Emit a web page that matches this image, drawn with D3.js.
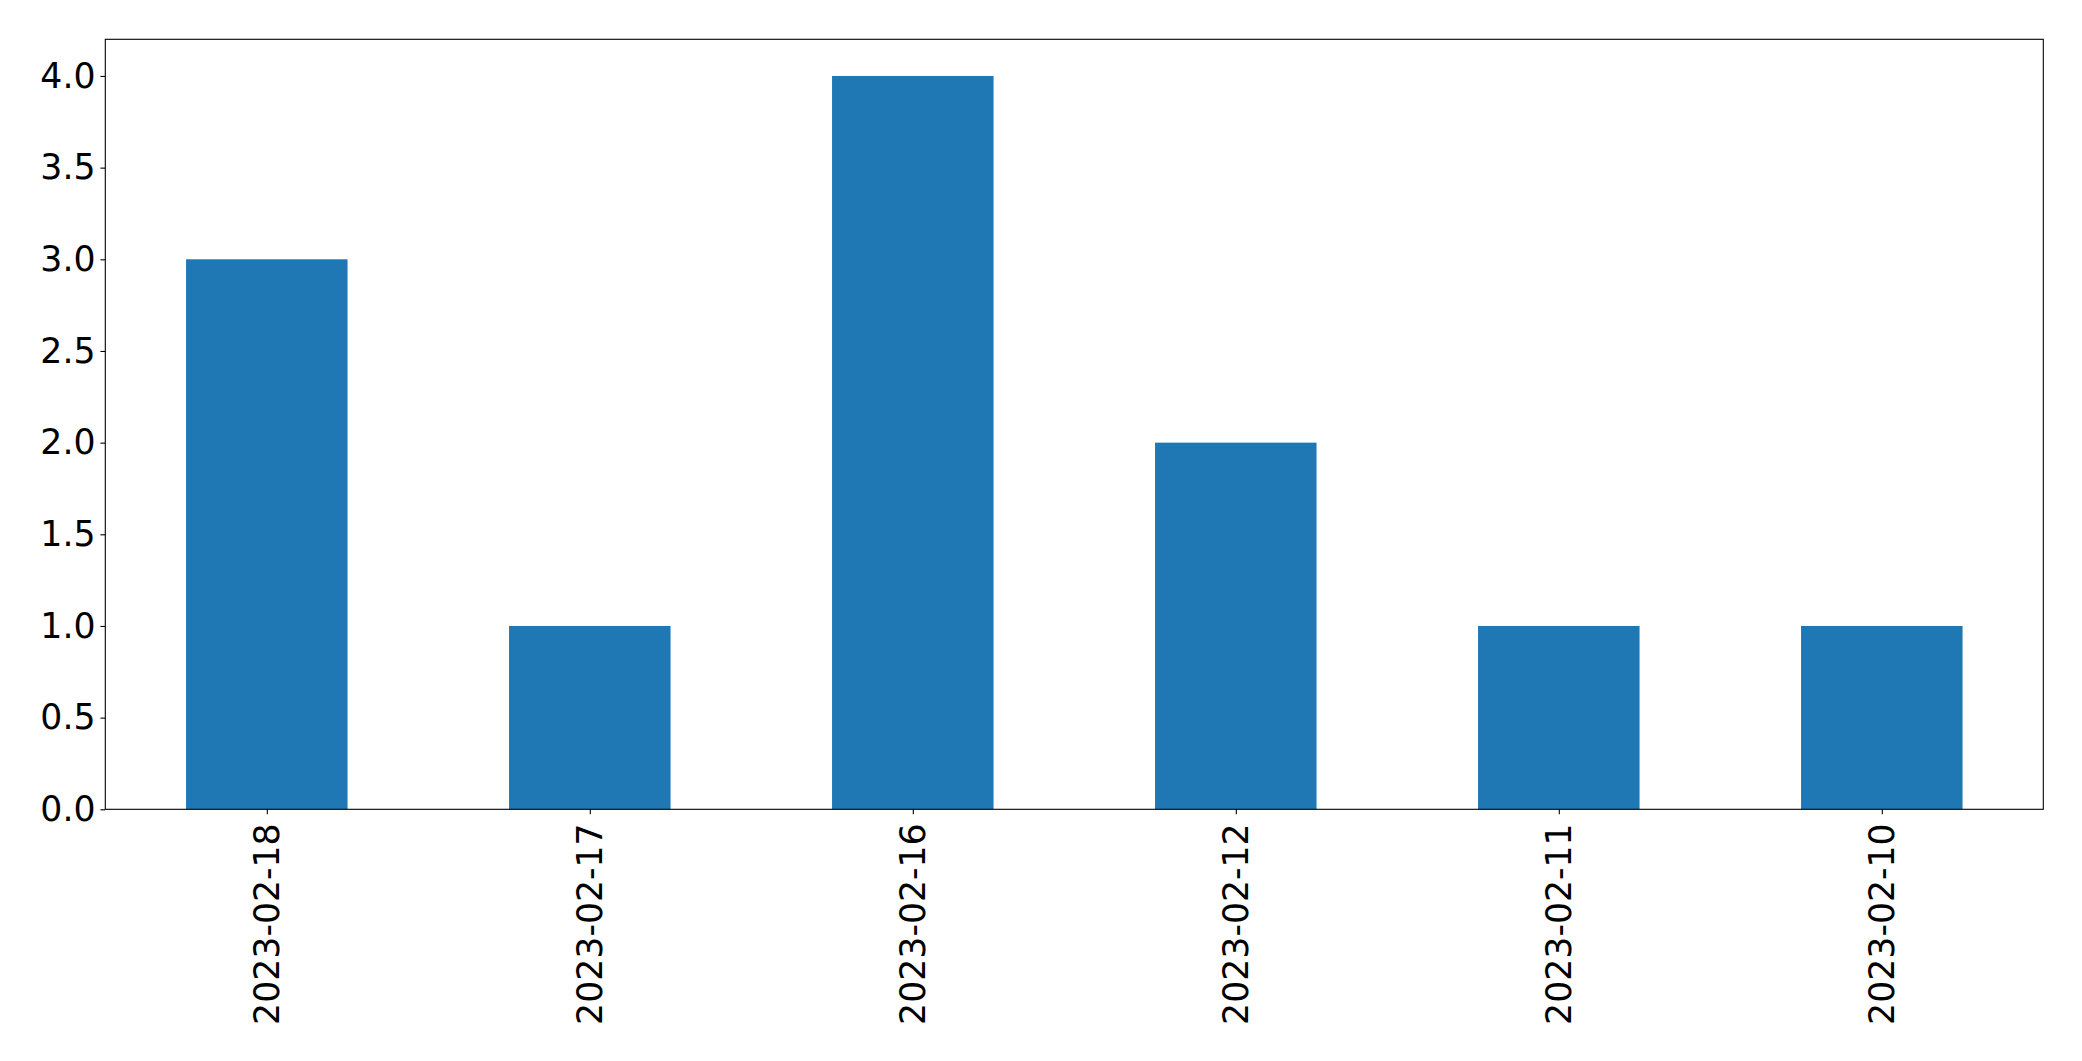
<!DOCTYPE html>
<html><head><meta charset="utf-8">
<script src="https://cdn.jsdelivr.net/npm/d3@7"></script>
<style>body{margin:0;background:#fff}svg{display:block}</style>
</head><body>
<script>
const categories = ["2023-02-18","2023-02-17","2023-02-16","2023-02-12","2023-02-11","2023-02-10"];
const values = [3, 1, 4, 2, 1, 1];
const yTicks = [0, 0.5, 1.0, 1.5, 2.0, 2.5, 3.0, 3.5, 4.0];

const W = 2082, H = 1061;
const L = 105.3, R = 2043.3, T = 39.3, B = 809.3;
const svg = d3.select("body").append("svg").attr("width", W).attr("height", H);
const fontFamily = "DejaVu Sans";
const fs = 34.7;

const x = d3.scaleLinear().domain([-0.5, categories.length - 0.5]).range([L, R]);
const y = d3.scaleLinear().domain([0, 4.2]).range([B, T]);

svg.append("g").selectAll("rect").data(values).join("rect")
  .attr("x", (d, i) => x(i - 0.25))
  .attr("width", (d, i) => x(i + 0.25) - x(i - 0.25))
  .attr("y", d => y(d))
  .attr("height", d => y(0) - y(d))
  .attr("fill", "#1f77b4");

const yAxis = svg.append("g").attr("transform", `translate(${L},0)`)
  .call(d3.axisLeft(y).tickValues(yTicks).tickFormat(d3.format(".1f")).tickSize(4.9).tickPadding(4.9));
yAxis.select(".domain").remove();
yAxis.selectAll("line").attr("stroke", "#000").attr("stroke-width", 1.1);
yAxis.selectAll("text").attr("font-family", fontFamily).attr("font-size", fs).attr("fill", "#000");

const xAxis = svg.append("g").attr("transform", `translate(0,${B})`)
  .call(d3.axisBottom(x).tickValues(d3.range(categories.length)).tickFormat(i => categories[i]).tickSize(4.9).tickPadding(4.9));
xAxis.select(".domain").remove();
xAxis.selectAll("line").attr("stroke", "#000").attr("stroke-width", 1.1);
xAxis.selectAll("text")
  .attr("font-family", fontFamily).attr("font-size", fs).attr("fill", "#000")
  .attr("transform", "rotate(-90)")
  .attr("text-anchor", "end")
  .attr("dy", "0.35em")
  .attr("x", -14)
  .attr("y", 0);

svg.append("rect").attr("x", L).attr("y", T).attr("width", R - L).attr("height", B - T)
  .attr("fill", "none").attr("stroke", "#000").attr("stroke-width", 1.1);
</script>
</body></html>
